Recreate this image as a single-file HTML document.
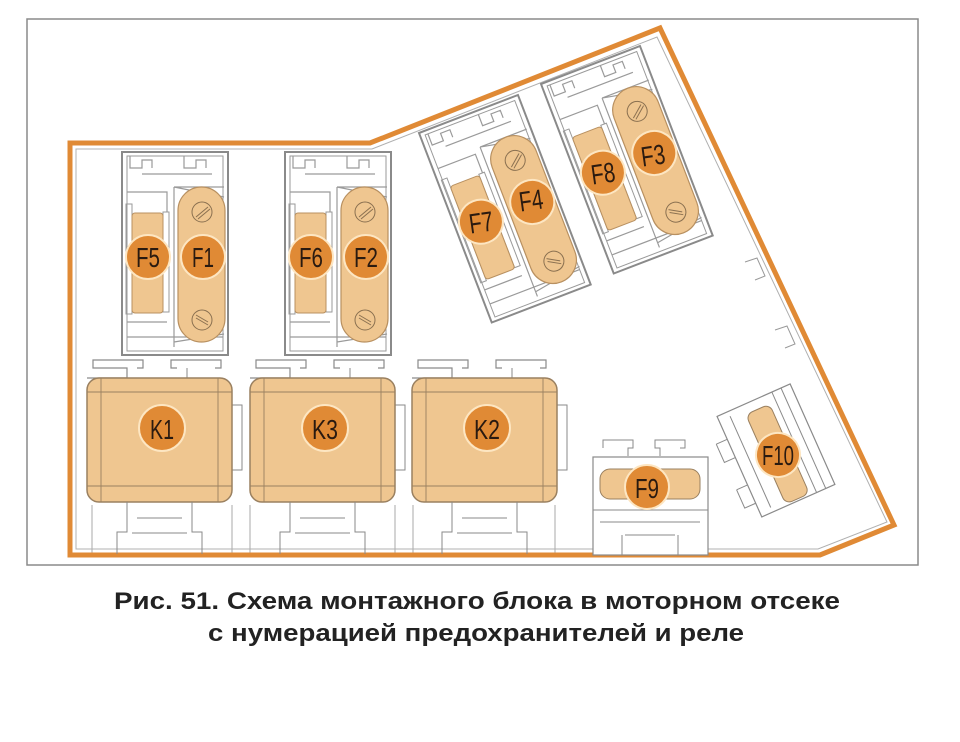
<!DOCTYPE html>
<html><head><meta charset="utf-8"><style>
html,body{margin:0;padding:0;background:#fff;}
svg{display:block;}
</style></head><body>
<svg width="960" height="742" viewBox="0 0 960 742" xmlns="http://www.w3.org/2000/svg">
<defs>
<g id="fb">
  <rect x="0" y="0" width="106" height="203" fill="#fff" stroke="#8a8a8a" stroke-width="2"/>
  <rect x="5" y="4" width="96" height="195" fill="none" stroke="#9a9a9a" stroke-width="1"/>
  <path d="M8 4 v12 h12 v-8 h10 v8 M62 4 v12 h12 v-8 h10 v8 M20 22 h70 M5 40 h40 v20 M5 170 h40 M5 185 h96 M52 35 v160 M52 35 h50 M52 35 l50 10 M52 190 l50 -8" fill="none" stroke="#9a9a9a" stroke-width="1.2"/>
  <rect x="4" y="52" width="6" height="110" fill="none" stroke="#9a9a9a"/>
  <rect x="41" y="60" width="6" height="100" fill="none" stroke="#9a9a9a"/>
  <rect x="10" y="61" width="31" height="100" rx="3" fill="#efc690" stroke="#b89060"/>
  <rect x="56" y="35" width="47" height="155" rx="23.5" fill="#efc690" stroke="#b89060" stroke-width="1.2"/>
  <circle cx="80" cy="60" r="10" fill="none" stroke="#8a7050"/>
  <line x1="74" y1="65" x2="86" y2="55" stroke="#8a7050"/>
  <line x1="76" y1="67" x2="88" y2="57" stroke="#8a7050"/>
  <circle cx="80" cy="168" r="10" fill="none" stroke="#8a7050"/>
  <line x1="74" y1="166" x2="86" y2="173" stroke="#8a7050"/>
  <line x1="74" y1="163" x2="86" y2="170" stroke="#8a7050"/>
  <circle cx="26" cy="105" r="22" fill="#e08a35" stroke="#fde6c2" stroke-width="2"/>
  <circle cx="81" cy="105" r="22" fill="#e08a35" stroke="#fde6c2" stroke-width="2"/>
</g>
<g id="rl">
  <path d="M0 0 h40 v-10 h-34 v-8 h50 v8 h-6 M90 -10 h-6 v-8 h50 v8 h-6" fill="#fff" stroke="#8a8a8a" stroke-width="1.2"/>
  <line x1="40" y1="-10" x2="40" y2="0" stroke="#8a8a8a"/>
  <line x1="100" y1="-10" x2="100" y2="0" stroke="#8a8a8a"/>
  <rect x="145" y="27" width="10" height="65" fill="#fff" stroke="#8a8a8a"/>
  <rect x="0" y="0" width="145" height="124" rx="12" fill="#efc690" stroke="#9a8060" stroke-width="1.5"/>
  <path d="M0 14 h145 M0 108 h145 M14 0 v124 M131 0 v124" stroke="#9a8060" fill="none" stroke-width="0.9"/>
  <path d="M40 124 v30 h-10 v22 M105 124 v30 h10 v22 M50 140 h45 M45 155 h55" stroke="#8a8a8a" fill="none"/>
  <circle cx="75" cy="50" r="23" fill="#e08a35" stroke="#fde6c2" stroke-width="2"/>
</g>
</defs>
<rect x="27" y="19" width="891" height="546" fill="#fff" stroke="#8a8a8a" stroke-width="1.5"/>
<path d="M92 505 v50 M250 505 v50 M232 505 v50 M395 505 v50 M413 505 v50 M555 505 v50 M593 505 v50" stroke="#aaa"/>
<polygon points="76,149 372,149 657,37 887,522 818,549 76,549" fill="none" stroke="#b0b0b0" stroke-width="1"/>
<polygon points="70,143 370,143 660,28 894,525 820,555 70,555" fill="none" stroke="#e08a35" stroke-width="5" stroke-linejoin="miter"/>
<path d="M745 262 l12 -4 l8 18 l-10 4 M775 330 l12 -4 l8 18 l-10 4" fill="none" stroke="#999"/>

<use href="#fb" transform="translate(122,152)"/>
<use href="#fb" transform="translate(285,152)"/>
<use href="#fb" transform="translate(419,133) rotate(-21)"/>
<use href="#fb" transform="translate(541,84) rotate(-21)"/>

<use href="#rl" transform="translate(87,378)"/>
<use href="#rl" transform="translate(250,378)"/>
<use href="#rl" transform="translate(412,378)"/>

<path d="M603 448 v-8 h30 v8 h-5 v8 M660 456 v-8 h-5 v-8 h30 v8 h-5" fill="none" stroke="#8a8a8a"/>
<rect x="593" y="457" width="115" height="98" fill="#fff" stroke="#8a8a8a" stroke-width="1.2"/>
<path d="M593 510 h115 M600 522 h100 M625 535 h50 M622 555 v-20 M678 555 v-20" fill="none" stroke="#8a8a8a"/>
<rect x="600" y="469" width="100" height="30" rx="10" fill="#efc690" stroke="#9a8060"/>
<circle cx="647" cy="487" r="22" fill="#e08a35" stroke="#fde6c2" stroke-width="2"/>

<g transform="translate(778,455) rotate(-24)">
  <rect x="-40" y="-60" width="80" height="110" fill="#fff" stroke="#8a8a8a" stroke-width="1.2"/>
  <path d="M-52 -35 h12 M-52 -35 v20 h12 M-52 15 v20 h12 M-52 15 h12 M20 -60 v110 M30 -60 v110 M-28 -55 v100" fill="none" stroke="#8a8a8a"/>
  <rect x="-13" y="-50" width="26" height="98" rx="7" fill="#efc690" stroke="#9a8060"/>
  <circle cx="0" cy="0" r="22" fill="#e08a35" stroke="#fde6c2" stroke-width="2"/>
</g>

<g font-family="'Liberation Sans',sans-serif" font-size="28" fill="#2a1a10" text-anchor="middle">
  <text x="148" y="267" textLength="24" lengthAdjust="spacingAndGlyphs">F5</text>
  <text x="203" y="267" textLength="22" lengthAdjust="spacingAndGlyphs">F1</text>
  <text x="311" y="267" textLength="24" lengthAdjust="spacingAndGlyphs">F6</text>
  <text x="366" y="267" textLength="24" lengthAdjust="spacingAndGlyphs">F2</text>
  <text x="481" y="232" transform="rotate(-8 481 222)" textLength="24" lengthAdjust="spacingAndGlyphs">F7</text>
  <text x="531" y="210" transform="rotate(-8 531 200)" textLength="24" lengthAdjust="spacingAndGlyphs">F4</text>
  <text x="603" y="183" transform="rotate(-8 603 173)" textLength="24" lengthAdjust="spacingAndGlyphs">F8</text>
  <text x="653" y="165" transform="rotate(-8 653 155)" textLength="24" lengthAdjust="spacingAndGlyphs">F3</text>
  <text x="162" y="439" textLength="24" lengthAdjust="spacingAndGlyphs">K1</text>
  <text x="325" y="439" textLength="26" lengthAdjust="spacingAndGlyphs">K3</text>
  <text x="487" y="439" textLength="26" lengthAdjust="spacingAndGlyphs">K2</text>
  <text x="647" y="498" textLength="24" lengthAdjust="spacingAndGlyphs">F9</text>
  <text x="778" y="465" textLength="32" lengthAdjust="spacingAndGlyphs">F10</text>
</g>

<g font-family="'Liberation Sans',sans-serif" font-weight="bold" font-size="24" fill="#222" text-anchor="middle">
  <text x="477" y="609" textLength="726" lengthAdjust="spacingAndGlyphs">Рис. 51. Схема монтажного блока в моторном отсеке</text>
  <text x="476" y="641" textLength="536" lengthAdjust="spacingAndGlyphs">с нумерацией предохранителей и реле</text>
</g>
</svg>
</body></html>
